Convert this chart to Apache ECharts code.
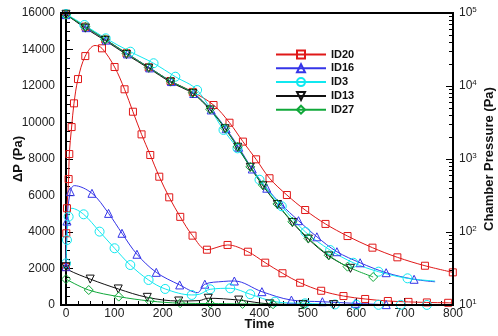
<!DOCTYPE html>
<html><head><meta charset="utf-8">
<script src="https://cdn.jsdelivr.net/npm/echarts@6/dist/echarts.min.js"></script>
<style>html,body{margin:0;padding:0;background:#fff}#c{width:498px;height:336px}</style>
</head><body><div id="c"></div><script>
// ---- data (x = Time) ----
const seriesNames = ['ID20', 'ID16', 'ID3', 'ID13', 'ID27'];

// ΔP (left axis, Pa)
const id20_dp_x = [0, 0.6, 2, 5.4, 6.8, 11.6, 16.5, 24.8, 39.9, 74.4, 100.4, 121, 138.4, 156.2, 174.2, 192.8, 213.4, 236.2, 261.6, 291.3, 334, 376, 411.8, 447.5, 484, 527.5, 573.6, 618.4, 665.3, 708, 746, 790];
const id20_dp_y = [2080, 3930, 5300, 6900, 8270, 9750, 11050, 12380, 13640, 14065, 13040, 11820, 10590, 9350, 8220, 7030, 5900, 4830, 3800, 3030, 3290, 2920, 2320, 1740, 1220, 780, 490, 330, 220, 170, 140, 120];
const id20_dp_ex = [60, 800], id20_dp_ey = [14220, 115];

const id16_dp_x = [0, 2, 8.9, 53.7, 88, 115.7, 146.7, 186.6, 235, 287, 348, 405, 466, 530, 598, 662];
const id16_dp_y = [2100, 4600, 6210, 6120, 5020, 3930, 2780, 1790, 1100, 1140, 1315, 730, 270, 180, 90, 20];
const id16_dp_ex = [17, 272, 325, 700], id16_dp_ey = [6540, 680, 1290, 8];

const id3_dp_x = [0, 2, 5.4, 36.4, 69.4, 100.4, 132.9, 170.7, 205, 260, 298, 339.5, 380.8, 432, 494, 556, 600, 646, 692, 746];
const id3_dp_y = [2280, 3560, 4840, 4970, 4020, 3110, 2190, 1370, 880, 550, 860, 915, 590, 180, 90, 30, 15, 10, 8, 5];
const id3_dp_ex = [12, 276], id3_dp_ey = [5300, 590];

const id13_dp_x = [0, 50, 108, 168, 233, 294, 357, 421, 490, 553];
const id13_dp_y = [2100, 1420, 880, 420, 220, 370, 270, 60, 30, 20];
const id13_dp_ex = [5, 275], id13_dp_ey = [1920, 240];

const id27_dp_x = [0, 47, 109, 173, 236, 298, 365, 428, 491];
const id27_dp_y = [1420, 820, 460, 220, 100, 80, 60, 40, 20];

// Chamber pressure (right log axis, Pa)
const id20_cp_x = [0, 40, 81, 125, 171, 216, 262, 305, 338, 365.7, 393, 420.7, 456.6, 494.4, 536.4, 582, 633.5, 685, 742, 799.6];
const id20_cp_y = [95000, 65000, 43600, 28100, 18000, 11700, 8300, 5490, 3140, 1730, 990, 545, 321, 200, 129, 88, 61, 45, 34.5, 28];

const id16_cp_x = [0, 42, 83, 127, 173, 218, 264, 300, 331, 357, 385, 415, 444, 480.6, 518.6, 560, 608, 661.8, 719.6];
const id16_cp_y = [95000, 63000, 42500, 27500, 17700, 11500, 7900, 4700, 2600, 1450, 730, 398, 242, 143, 86, 53.7, 37.9, 27.7, 22.5];
const id16_cp_ex = [763], id16_cp_ey = [20.8];

const id3_cp_x = [0, 38, 82, 133, 181, 226, 271, 325.6, 354.5, 400, 446, 495, 546, 594, 646, 706];
const id3_cp_y = [97000, 68500, 45000, 29500, 20500, 13400, 8800, 2500, 1400, 520, 225, 100, 56.6, 37.9, 28.6, 23.2];
const id3_cp_ex = [763], id3_cp_ey = [21.3];

const id13_cp_x = [0, 40, 81, 125, 171, 216, 262, 298, 329, 355, 381, 407, 437, 468, 501, 543, 588];
const id13_cp_y = [96000, 62000, 42000, 27000, 17500, 11300, 7900, 4700, 2600, 1450, 770, 430, 238, 135, 80, 47, 31.8];

const id27_cp_x = [0, 40, 81, 125, 171, 216, 262, 298, 329, 355, 381, 407, 437, 468, 501, 543, 582, 635];
const id27_cp_y = [95000, 64900, 43600, 28100, 18000, 11700, 8090, 4800, 2640, 1470, 780, 440, 242, 138, 82, 48, 33.5, 24.2];

// axis ranges / ticks
const xMin = 0, xMax = 800, xStep = 100;
const dpMin = 0, dpMax = 16000, dpStep = 2000;
const cpMin = 10, cpMax = 100000;

// ---- build ----
function pts(xs, ys, ex, ey) {
  const a = xs.map((x, i) => ({ value: [x, ys[i]] }));
  (ex || []).forEach((x, i) => a.push({ value: [x, ey[i]], symbol: 'none' }));
  a.sort((p, q) => p.value[0] - q.value[0]);
  return a;
}
const styles = {
  ID20: { color: '#e01818', symbol: 'rect', size: 7, rot: 0 },
  ID16: { color: '#3535e8', symbol: 'triangle', size: 8, rot: 0 },
  ID3:  { color: '#10e8f0', symbol: 'circle', size: 9, rot: 0 },
  ID13: { color: '#111111', symbol: 'triangle', size: 8, rot: 180 },
  ID27: { color: '#10a83a', symbol: 'diamond', size: 9, rot: 0 }
};
function mk(name, data, yIdx) {
  const s = styles[name];
  return {
    name, type: 'line', xAxisIndex: 0, yAxisIndex: yIdx, data,
    smooth: 0.35, symbol: s.symbol, symbolSize: s.size, symbolRotate: s.rot,
    showAllSymbol: true, animation: false,
    lineStyle: { color: s.color, width: 1 },
    itemStyle: { color: 'rgba(255,255,255,0)', borderColor: s.color, borderWidth: 1 }
  };
}
const series = [
  mk('ID20', pts(id20_dp_x, id20_dp_y, id20_dp_ex, id20_dp_ey), 0),
  mk('ID16', pts(id16_dp_x, id16_dp_y, id16_dp_ex, id16_dp_ey), 0),
  mk('ID3',  pts(id3_dp_x, id3_dp_y, id3_dp_ex, id3_dp_ey), 0),
  mk('ID13', pts(id13_dp_x, id13_dp_y, id13_dp_ex, id13_dp_ey), 0),
  mk('ID27', pts(id27_dp_x, id27_dp_y), 0),
  mk('ID20', pts(id20_cp_x, id20_cp_y), 1),
  mk('ID16', pts(id16_cp_x, id16_cp_y, id16_cp_ex, id16_cp_ey), 1),
  mk('ID3',  pts(id3_cp_x, id3_cp_y, id3_cp_ex, id3_cp_ey), 1),
  mk('ID13', pts(id13_cp_x, id13_cp_y), 1),
  mk('ID27', pts(id27_cp_x, id27_cp_y), 1)
];

const FONT = 'Liberation Sans, Arial, Helvetica, sans-serif';
const chart = echarts.init(document.getElementById('c'), null, { renderer: 'canvas' });
chart.setOption({
  animation: false,
  backgroundColor: '#fff',
  textStyle: { fontFamily: FONT },
  grid: [
    { left: 66, right: 45, top: 13, bottom: 31, containLabel: false, outerBoundsMode: 'none' },
    { left: 61, right: 45, top: 13, bottom: 31, containLabel: false, outerBoundsMode: 'none', show: true, borderColor: '#000', borderWidth: 2, backgroundColor: 'transparent', z: 10 }
  ],
  legend: {
    data: seriesNames, orient: 'vertical', left: 270, top: 44,
    itemWidth: 50, itemHeight: 10, itemGap: 2.8,
    textStyle: { fontFamily: FONT, fontSize: 11, fontWeight: 'bold', color: '#111' }
  },
  xAxis: [
    {
      type: 'value', gridIndex: 0, min: xMin, max: xMax, interval: xStep,
      name: 'Time', nameLocation: 'middle', nameGap: 13, nameMoveOverlap: false,
      nameTextStyle: { fontFamily: FONT, fontSize: 13, fontWeight: 'bold', color: '#111' },
      axisLine: { show: true, lineStyle: { color: '#000', width: 2 } },
      axisTick: { inside: true, length: 7, lineStyle: { color: '#000' } },
      minorTick: { show: true, splitNumber: 4, length: 4, lineStyle: { color: '#000' } },
      splitLine: { show: false },
      axisLabel: { margin: 3, fontSize: 12, color: '#222', fontFamily: FONT, formatter: v => String(v) }
    },
    { type: 'value', gridIndex: 1, show: false, min: 0, max: 1 }
  ],
  yAxis: [
    {
      type: 'value', gridIndex: 0, position: 'left', offset: 5,
      min: dpMin, max: dpMax, interval: dpStep,
      name: 'ΔP (Pa)', nameLocation: 'middle', nameGap: 36, nameMoveOverlap: false,
      nameTextStyle: { fontFamily: FONT, fontSize: 13, fontWeight: 'bold', color: '#111' },
      axisLine: { show: true, lineStyle: { color: '#000', width: 2 } },
      axisTick: { show: true, inside: true, length: 7, lineStyle: { color: '#000' } },
      minorTick: { show: true, splitNumber: 4, length: 4, lineStyle: { color: '#000' } },
      splitLine: { show: false },
      axisLabel: { margin: 6, fontSize: 12, color: '#222', fontFamily: FONT, formatter: v => String(v) }
    },
    {
      type: 'log', gridIndex: 0, position: 'right', logBase: 10,
      min: cpMin, max: cpMax,
      name: 'Chamber Pressure (Pa)', nameLocation: 'middle', nameGap: 30, nameMoveOverlap: false,
      nameTextStyle: { fontFamily: FONT, fontSize: 13, fontWeight: 'bold', color: '#111' },
      axisLine: { show: true, lineStyle: { color: '#000', width: 2 } },
      axisTick: { show: true, inside: true, length: 7, lineStyle: { color: '#000' } },
      minorTick: { show: true, splitNumber: 9, length: 4, lineStyle: { color: '#000' } },
      splitLine: { show: false },
      axisLabel: {
        margin: 6, color: '#222', fontFamily: FONT,
        formatter: v => '{b|10}{s|' + Math.round(Math.log10(v)) + '}',
        rich: { b: { fontSize: 12, fontFamily: FONT, color: '#222' }, s: { fontSize: 8, fontFamily: FONT, color: '#222', verticalAlign: 'top', padding: [0, 0, 6, 0] } }
      }
    },
    { type: 'value', gridIndex: 1, show: false, min: 0, max: 1 }
  ],
  series
});
</script></body></html>
